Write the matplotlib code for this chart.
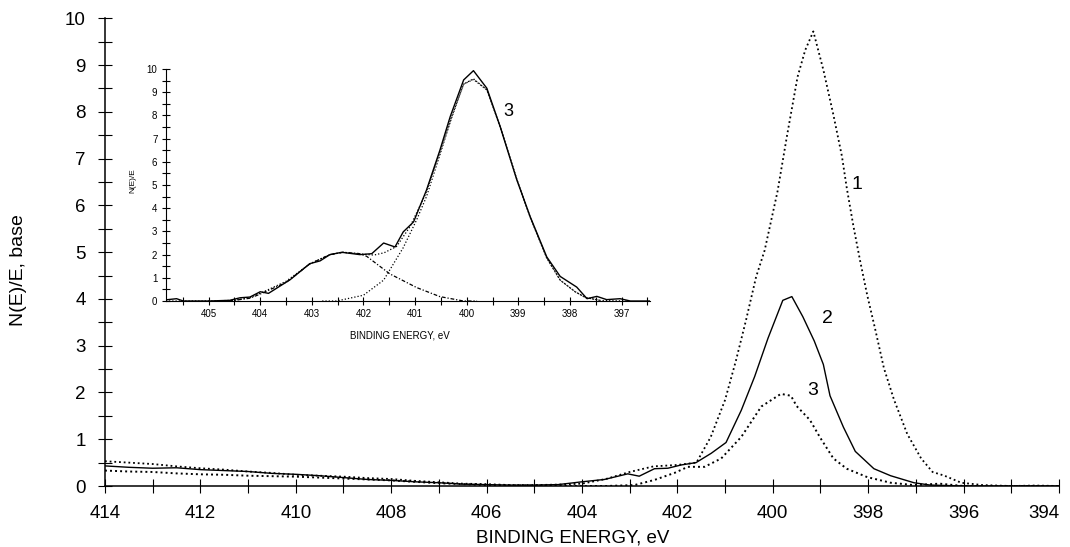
import matplotlib
matplotlib.use("Agg")
import matplotlib.pyplot as plt
from matplotlib.ticker import MultipleLocator

plt.rcParams['font.family'] = ['Liberation Sans', 'DejaVu Sans']

# --- main spectra (binding energy, eV / N(E)/E) ---
e1 = [414, 413.5, 413, 412.5, 412, 411.5, 411, 410.5, 410, 409.5, 409, 408.5, 408, 407.5,
      407, 406.5, 406, 405.5, 405, 404.5, 404, 403.5, 403, 402.5, 402, 401.6, 401.3, 401.0,
      400.77, 400.56, 400.35, 400.17, 399.9, 399.7, 399.48, 399.32, 399.15, 398.94, 398.73,
      398.55, 398.45, 398.31, 398.17, 398.02, 397.85, 397.67, 397.46, 397.18, 396.89, 396.65,
      396.4, 396.05, 395.6, 395, 394.5, 394]
n1 = [0.53, 0.5, 0.47, 0.42, 0.38, 0.35, 0.31, 0.28, 0.24, 0.22, 0.20, 0.17, 0.15, 0.11,
      0.08, 0.05, 0.04, 0.02, 0.02, 0.03, 0.05, 0.15, 0.30, 0.42, 0.45, 0.5, 1.05, 1.84,
      2.69, 3.55, 4.47, 5.04, 6.3, 7.5, 8.75, 9.32, 9.72, 8.9, 7.94,
      7.05, 6.38, 5.56, 4.82, 4.08, 3.34, 2.52, 1.85, 1.11, 0.59, 0.30,
      0.22, 0.07, 0.02, 0.0, 0.01, 0.0]

e2 = [414, 413.5, 413, 412.5, 412, 411.5, 411, 410.5, 410, 409.5, 409, 408.5, 408, 407.5,
      407, 406.5, 406, 405.5, 405, 404.5, 404, 403.53, 403.04, 402.8, 402.48, 402.2, 401.92,
      401.61, 401.29, 400.98, 400.66, 400.38, 400.1, 399.79, 399.6, 399.37, 399.13, 398.94,
      398.8, 398.52, 398.27, 397.88, 397.53, 397.04, 396.7, 396, 395, 394]
n2 = [0.43, 0.4, 0.38, 0.39, 0.35, 0.33, 0.31, 0.27, 0.25, 0.22, 0.18, 0.14, 0.12, 0.09,
      0.07, 0.04, 0.03, 0.02, 0.02, 0.03, 0.09, 0.14, 0.26, 0.21, 0.37, 0.38, 0.45,
      0.5, 0.70, 0.93, 1.62, 2.34, 3.16, 3.97, 4.05, 3.62, 3.1, 2.6,
      1.93, 1.26, 0.74, 0.37, 0.22, 0.07, 0.02, 0.0, 0.0, 0.0]

e3 = [414, 413.5, 413, 412.5, 412, 411.5, 411, 410.5, 410, 409.5, 409, 408.5, 408, 407.5,
      407, 406.5, 406, 405.5, 405, 404, 403.5, 402.9, 402.48, 402.06, 401.78, 401.43, 401.08,
      400.66, 400.24, 399.83, 399.62, 399.5, 399.22, 399.01, 398.73, 398.45, 398.02, 397.53,
      397.04, 396.5, 396, 395, 394]
n3 = [0.33, 0.31, 0.3, 0.27, 0.25, 0.24, 0.22, 0.21, 0.2, 0.18, 0.16, 0.14, 0.12, 0.09,
      0.06, 0.04, 0.02, 0.01, 0.01, 0.0, 0.0, 0.02, 0.13, 0.28, 0.41, 0.41, 0.59,
      1.05, 1.7, 1.97, 1.93, 1.71, 1.41, 1.04, 0.59, 0.37, 0.19, 0.07,
      0.02, 0.05, 0.0, 0.0, 0.0]

xticks_main = [414, 412, 410, 408, 406, 404, 402, 400, 398, 396, 394]

# --- inset: spectrum 3 with fitted components ---
ie_meas = [405.83, 405.62, 405.49, 405.0, 404.59, 404.39, 404.2, 404.0, 403.84, 403.42, 403.04,
           402.84, 402.65, 402.42, 402.07, 401.84, 401.61, 401.39, 401.23, 401.03, 400.78,
           400.52, 400.32, 400.06, 399.87, 399.61, 399.35, 399.03, 398.77, 398.45, 398.19,
           397.87, 397.67, 397.48, 397.29, 397.03, 396.83, 396.45]
in_meas = [0.05, 0.1, 0.0, 0.0, 0.03, 0.14, 0.17, 0.4, 0.33, 0.92, 1.61,
           1.73, 2.0, 2.1, 2.0, 2.04, 2.5, 2.33, 2.98, 3.41, 4.78,
           6.5, 7.95, 9.53, 9.93, 9.17, 7.5, 5.22, 3.63, 1.9, 1.06,
           0.6, 0.1, 0.2, 0.06, 0.1, 0.0, 0.0]

ie_sum = [405.83, 405, 404.5, 404.2, 404.0, 403.5, 403.04, 402.65, 402.4, 402.07, 401.8, 401.6,
          401.36, 401.1, 400.8, 400.52, 400.3, 400.06, 399.87, 399.61, 399.35, 399.03, 398.77,
          398.45, 398.19, 397.9, 397.7, 397.4, 396.9]
in_sum = [0, 0, 0.03, 0.15, 0.33, 0.85, 1.6, 2.0, 2.1, 2.03, 1.98, 2.08,
          2.35, 3.2, 4.6, 6.4, 7.9, 9.35, 9.58, 9.1, 7.5, 5.25, 3.6,
          1.85, 0.9, 0.4, 0.15, 0.02, 0.0]

ie_c1 = [402.8, 402.52, 402.0, 401.61, 401.23, 400.97, 400.78, 400.52, 400.3, 400.06, 399.87,
         399.61, 399.35, 399.03, 398.77, 398.45, 398.19, 397.9, 397.7, 397.4]
in_c1 = [0, 0.0, 0.25, 0.9, 2.3, 3.5, 4.5, 6.3, 7.85, 9.35, 9.55,
         9.1, 7.5, 5.25, 3.6, 1.85, 0.9, 0.4, 0.15, 0.02]

ie_c2 = [404.6, 404.2, 404.0, 403.5, 403.04, 402.65, 402.39, 402.1, 401.94, 401.49, 400.97,
         400.52, 400.06, 399.8]
in_c2 = [0, 0.12, 0.3, 0.8, 1.6, 2.0, 2.1, 2.05, 1.93, 1.17, 0.58,
         0.19, 0.0, 0.0]

dots = (0, (1, 1.6))

fig = plt.figure(figsize=(10.7, 5.47), dpi=100)
ax = fig.add_axes([0.0981, 0.1115, 0.8916, 0.855])

ax.plot(e1, n1, color='black', lw=1.3, ls=dots)
ax.plot(e2, n2, color='black', lw=1.0)
ax.plot(e3, n3, color='black', lw=1.4, ls=dots)

ax.set_xlim(414, 394)
ax.set_ylim(0, 10)
ax.set_xticks(xticks_main)
ax.set_xticklabels([str(v) for v in xticks_main])
ax.xaxis.set_minor_locator(MultipleLocator(1))
ax.yaxis.set_major_locator(MultipleLocator(1))
ax.yaxis.set_minor_locator(MultipleLocator(0.5))
for s in ['top', 'right']:
    ax.spines[s].set_visible(False)
for s in ['left', 'bottom']:
    ax.spines[s].set_linewidth(1.1)
ax.tick_params(which='both', direction='inout', length=10, width=0.8)
ax.tick_params(axis='x', labelsize=13.5, pad=9)
ax.tick_params(axis='y', labelsize=13.5, pad=9)
ax.get_xticklabels()[-1].set_ha('right')
ax.set_xlabel('BINDING ENERGY, eV', fontsize=13.5)
ax.set_ylabel('N(E)/E, base', fontsize=14)
ax.xaxis.set_label_coords(0.49, -0.093)
ax.yaxis.set_label_coords(-0.082, 0.462)

ax.text(398.23, 6.45, '1', fontsize=14, ha='center', va='center')
ax.text(398.86, 3.59, '2', fontsize=14, ha='center', va='center')
ax.text(399.16, 2.05, '3', fontsize=14, ha='center', va='center')

# inset
ins = fig.add_axes([0.1549, 0.4497, 0.4526, 0.4241])
ins.plot(ie_meas, in_meas, color='black', lw=1.0)
ins.plot(ie_sum, in_sum, color='black', lw=0.9, ls=dots)
ins.plot(ie_c1, in_c1, color='black', lw=0.9, ls=dots)
ins.plot(ie_c2, in_c2, color='black', lw=0.9, ls=(0, (3, 1.5, 1, 1.5)))
ins.set_xlim(405.83, 396.45)
ins.set_ylim(0, 10)
ins.patch.set_alpha(0)
ins.xaxis.set_major_locator(MultipleLocator(1))
ins.xaxis.set_minor_locator(MultipleLocator(0.5))
ins.yaxis.set_major_locator(MultipleLocator(1))
ins.yaxis.set_minor_locator(MultipleLocator(0.5))
for s in ['top', 'right']:
    ins.spines[s].set_visible(False)
ins.tick_params(which='both', direction='inout', length=6, width=0.8)
ins.tick_params(axis='both', labelsize=7, pad=3)
ins.set_xlabel('BINDING ENERGY, eV', fontsize=7)
ins.set_ylabel('N(E)/E', fontsize=6)
ins.xaxis.set_label_coords(0.484, -0.125)
ins.yaxis.set_label_coords(-0.061, 0.52)
ins.text(399.19, 8.15, '3', fontsize=13, ha='center', va='center')

fig.savefig('out.png', dpi=100)
